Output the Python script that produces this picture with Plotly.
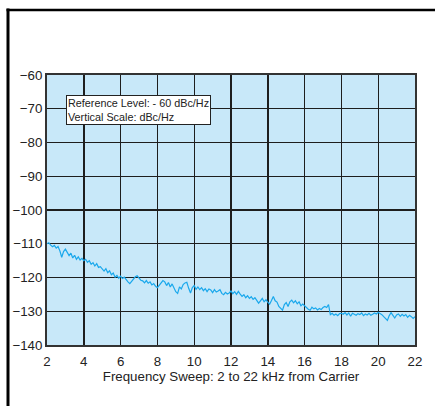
import plotly.graph_objects as go

freq_khz = [
    2.0, 2.1, 2.2, 2.3, 2.4, 2.5, 2.6, 2.7, 2.8, 2.9,
    3.0, 3.1, 3.2, 3.3, 3.4, 3.5, 3.6, 3.7, 3.8, 3.9,
    4.0, 4.1, 4.2, 4.3, 4.4, 4.5, 4.6, 4.7, 4.8, 4.9,
    5.0, 5.1, 5.2, 5.3, 5.4, 5.5, 5.6, 5.7, 5.8, 5.9,
    6.0, 6.1, 6.2, 6.3, 6.4, 6.5, 6.6, 6.7, 6.8, 6.9,
    7.0, 7.1, 7.2, 7.3, 7.4, 7.5, 7.6, 7.7, 7.8, 7.9,
    8.0, 8.1, 8.2, 8.3, 8.4, 8.5, 8.6, 8.7, 8.8, 8.9,
    9.0, 9.1, 9.2, 9.3, 9.4, 9.5, 9.6, 9.7, 9.8, 9.9,
    10.0, 10.1, 10.2, 10.3, 10.4, 10.5, 10.6, 10.7, 10.8, 10.9,
    11.0, 11.1, 11.2, 11.3, 11.4, 11.5, 11.6, 11.7, 11.8, 11.9,
    12.0, 12.1, 12.2, 12.3, 12.4, 12.5, 12.6, 12.7, 12.8, 12.9,
    13.0, 13.1, 13.2, 13.3, 13.4, 13.5, 13.6, 13.7, 13.8, 13.9,
    14.0, 14.1, 14.2, 14.3, 14.4, 14.5, 14.6, 14.7, 14.8, 14.9,
    15.0, 15.1, 15.2, 15.3, 15.4, 15.5, 15.6, 15.7, 15.8, 15.9,
    16.0, 16.1, 16.2, 16.3, 16.4, 16.5, 16.6, 16.7, 16.8, 16.9,
    17.0, 17.1, 17.2, 17.3, 17.4, 17.5, 17.6, 17.7, 17.8, 17.9,
    18.0, 18.1, 18.2, 18.3, 18.4, 18.5, 18.6, 18.7, 18.8, 18.9,
    19.0, 19.1, 19.2, 19.3, 19.4, 19.5, 19.6, 19.7, 19.8, 19.9,
    20.0, 20.1, 20.2, 20.3, 20.4, 20.5, 20.6, 20.7, 20.8, 20.9,
    21.0, 21.1, 21.2, 21.3, 21.4, 21.5, 21.6, 21.7, 21.8, 21.9,
    22.0,
]

noise_dbc_hz = [
    -110.0, -109.7, -110.4, -110.9, -110.5, -111.3, -110.8, -112.1, -114.0, -112.3,
    -111.6, -112.6, -113.5, -112.8, -114.2, -113.4, -114.6, -113.9, -114.8, -114.3,
    -115.0, -114.6, -115.5, -115.0, -116.1, -115.6, -116.6, -115.9, -117.0, -116.8,
    -117.6, -118.1, -117.4, -118.6, -118.0, -119.2, -118.7, -119.9, -119.4, -120.2,
    -119.6, -120.3, -119.9, -120.8, -121.3, -121.8, -121.1, -120.4, -119.8, -119.5,
    -120.3, -120.8, -121.0, -121.6, -120.9, -121.7, -121.3, -122.2, -121.8, -122.6,
    -123.0, -122.4, -121.6, -120.9, -121.3, -122.4, -121.5, -122.8, -121.9, -123.3,
    -124.2, -124.7, -122.8, -123.4, -122.1, -121.6, -121.4, -123.2, -124.6, -123.0,
    -122.4, -123.5, -122.8, -123.6, -123.0, -123.9, -123.3, -124.2, -123.4, -123.7,
    -124.5, -123.6, -124.3, -124.0, -123.6, -124.7, -125.1, -124.4, -124.9, -124.6,
    -124.0, -124.8, -124.2, -125.0, -124.1, -124.9, -125.6, -125.1, -126.0, -125.4,
    -126.2, -125.7, -126.5, -126.0, -127.0, -127.6, -126.9, -126.2, -127.2, -126.6,
    -127.3, -127.9, -126.8, -125.6, -126.9, -127.3, -128.6, -129.2, -129.7, -128.0,
    -127.4, -128.6, -127.2, -126.7, -127.5, -126.9, -127.8, -127.2, -128.4, -127.9,
    -128.3, -128.9, -129.4, -129.7, -128.8, -129.3, -129.0, -129.6, -129.2, -129.5,
    -128.9, -128.6, -128.9, -128.0, -131.0, -130.6, -131.2, -130.8, -131.3, -130.7,
    -130.6, -130.9, -130.4, -131.1, -130.5, -131.5, -130.6, -130.9, -131.2, -130.7,
    -131.0, -130.5, -131.3, -130.8, -131.1, -130.6, -131.2, -130.9, -130.5, -130.8,
    -130.3, -130.7, -131.0, -131.6, -132.1, -132.7, -131.3, -130.4, -131.2, -132.0,
    -131.1, -130.8, -131.5, -130.9, -131.4, -131.0, -131.8, -131.2, -131.6, -132.1,
    -131.6,
]

x_ticks = [2, 4, 6, 8, 10, 12, 14, 16, 18, 20, 22]
y_ticks = [-140, -130, -120, -110, -100, -90, -80, -70, -60]

x_title = "Frequency Sweep: 2 to 22 kHz from Carrier"
note_text = "Reference Level: - 60 dBc/Hz<br>Vertical Scale: dBc/Hz"

FONT = "Liberation Sans, Arial, sans-serif"

fig = go.Figure()
fig.add_trace(go.Scatter(
    x=freq_khz, y=noise_dbc_hz, mode="lines",
    line=dict(color="#1aa8ec", width=1.2),
    showlegend=False, hoverinfo="skip",
))

fig.update_layout(
    width=435, height=406,
    margin=dict(l=47, r=20, t=75, b=61),
    paper_bgcolor="white",
    plot_bgcolor="#c8e8f9",
    font=dict(family=FONT, size=13.3, color="#222"),
    xaxis=dict(
        range=[2, 22], tickvals=x_ticks, ticks="", showgrid=True,
        gridcolor="#1e1e1e", gridwidth=1.4, zeroline=False,
        showline=True, linecolor="#333", linewidth=2, mirror=True,
        title=dict(text=x_title, font=dict(size=13.3), standoff=0),
        tickfont=dict(size=13.3), ticklabelstandoff=3,
    ),
    yaxis=dict(
        range=[-140, -60], tickvals=y_ticks, ticks="", showgrid=True,
        gridcolor="#1e1e1e", gridwidth=1.4, zeroline=False,
        showline=True, linecolor="#333", linewidth=2, mirror=True,
        tickfont=dict(size=13.3), ticklabelstandoff=0,
    ),
    annotations=[dict(
        xref="paper", yref="paper", x=0.0516, y=0.926,
        xanchor="left", yanchor="top", align="left",
        text=note_text, showarrow=False,
        font=dict(size=10.8, color="#222", family=FONT),
        bgcolor="white", bordercolor="#222", borderwidth=1, borderpad=1,
    )],
    shapes=[
        # outer frame: left edge (pixel-anchored to the plot area's left edge)
        dict(type="line", xref="paper", yref="paper",
             xsizemode="pixel", xanchor=0, x0=-39, x1=-39,
             ysizemode="pixel", yanchor=1, y0=66.5, y1=-400,
             line=dict(color="black", width=3)),
        # outer frame: top edge
        dict(type="line", xref="paper", yref="paper",
             xsizemode="pixel", xanchor=0, x0=-40.5, x1=420,
             ysizemode="pixel", yanchor=1, y0=65, y1=65,
             line=dict(color="black", width=2.6)),
    ],
)

fig.write_html(
    "out.html",
    config={"displayModeBar": False, "staticPlot": True},
    post_script="document.body.style.margin='0';document.body.style.overflow='hidden';",
)
